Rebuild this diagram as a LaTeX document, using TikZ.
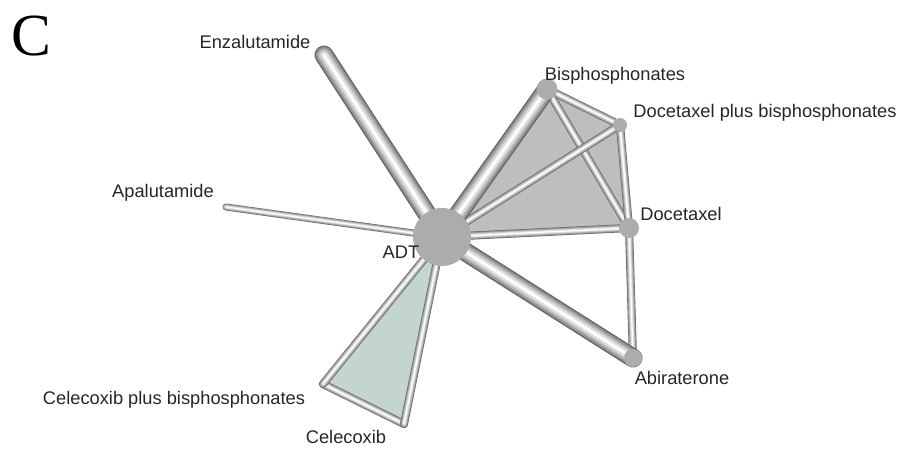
\documentclass[tikz,border=0pt]{standalone}
\usepackage{fontspec}
\setmainfont{Liberation Sans}
\newfontfamily\panelfont{Liberation Serif}
\usetikzlibrary{positioning,backgrounds}
\definecolor{tubedark}{RGB}{105,105,105}
\definecolor{tubemid}{RGB}{150,150,150}
\definecolor{tubesoft}{RGB}{188,188,188}
\definecolor{tubelight}{RGB}{222,222,222}
\definecolor{nodegray}{RGB}{172,172,172}
\definecolor{wedgegray}{RGB}{190,190,190}
\definecolor{wedgegreen}{RGB}{196,213,209}

\begin{document}
\begin{tikzpicture}[x=0.02cm,y=-0.02cm,
  tube/.style={
    draw=tubedark,
    line width=#1,
    line cap=round,
    postaction={draw=tubemid, line width=0.84*#1, line cap=round},
    postaction={draw=tubesoft, line width=0.62*#1, line cap=round},
    postaction={draw=tubelight, line width=0.4*#1, line cap=round},
    postaction={draw=white, line width=0.16*#1, line cap=round}
  },
  tube/.default=4.6pt,
  drug/.style={
    circle,
    fill=nodegray,
    inner sep=0pt,
    minimum size=#1
  },
  drug/.default=0.4cm,
  tag/.style={
    font=\fontsize{10.4}{12}\selectfont,
    text=black!85,
    inner sep=0pt
  }
]
\useasboundingbox (0,0) rectangle (910,450);

% -------- Panel letter --------
\node[font=\panelfont\fontsize{34}{34}\selectfont, inner sep=0pt] (panel) at (31,36) {C};

% -------- Treatments --------
\node[drug=1.16cm] (adt) at (442,237) {};
\node[drug=0.42cm] (bisph) at (547,89) {};
\node[drug=0.28cm] (dpb) at (620,125) {};
\node[drug=0.4cm] (doce) at (629,228) {};
\node[drug=0.36cm] (abi) at (633,358) {};
\coordinate (enza) at (324,55);
\coordinate (apa) at (226,207);
\coordinate (cpb) at (323,384);
\coordinate (cele) at (404,424);

% -------- Labels --------
\node[tag] (enza-l) at (255,42) {Enzalutamide};
\node[tag] (bisph-l) at (615,76) {Bisphosphonates};
\node[tag] (dpb-l) at (765,113) {Docetaxel plus bisphosphonates};
\node[tag] (apa-l) at (163,193) {Apalutamide};
\node[tag] (adt-l) at (401,252) {ADT};
\node[tag] (doce-l) at (681,214) {Docetaxel};
\node[tag] (abi-l) at (682,378) {Abiraterone};
\node[tag] (cpb-l) at (174,400) {Celecoxib plus bisphosphonates};
\node[tag] (cele-l) at (346,437) {Celecoxib};

% -------- Comparisons --------
\begin{scope}[on background layer]
  \fill[wedgegray] (adt.center) -- (bisph.center) -- (dpb.center) -- (doce.center) -- cycle;
  \fill[wedgegreen] (adt.center) -- (cpb) -- (cele) -- cycle;

  \draw[tube] (bisph.center) -- (dpb.center);
  \draw[tube] (bisph.center) -- (doce.center);
  \draw[tube] (dpb.center) -- (doce.center);
  \draw[tube] (doce.center) -- (abi.center);
  \draw[tube] (cpb) -- (cele);
  \draw[tube=4pt] (adt.center) -- (apa);
  \draw[tube] (adt.center) -- (dpb.center);
  \draw[tube] (adt.center) -- (doce.center);
  \draw[tube] (adt.center) -- (cpb);
  \draw[tube] (adt.center) -- (cele);
  \draw[tube=10.8pt] (adt.center) -- (enza);
  \draw[tube=10.8pt] (adt.center) -- (bisph.center);
  \draw[tube=10.8pt] (adt.center) -- (abi.center);
\end{scope}

\end{tikzpicture}
\end{document}
